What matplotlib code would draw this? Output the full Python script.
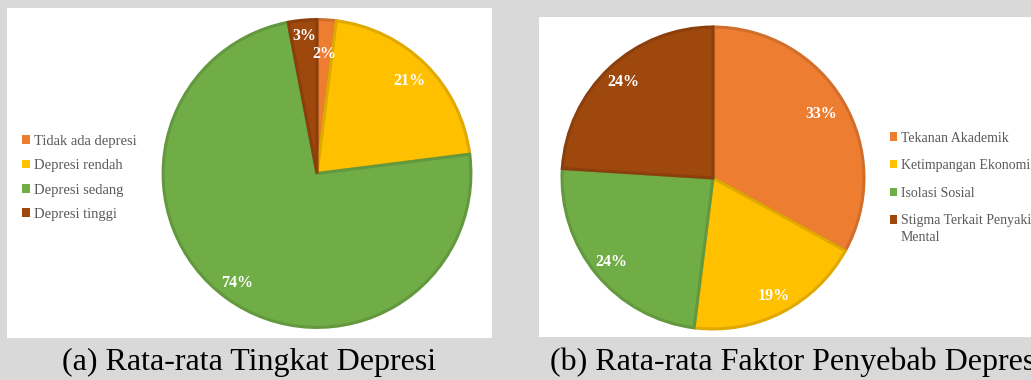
import numpy as np
import matplotlib
matplotlib.use("Agg")
import matplotlib.pyplot as plt
from matplotlib.patches import Rectangle
from matplotlib.colors import to_rgb

# data
tingkat_labels = ["Tidak ada depresi", "Depresi rendah", "Depresi sedang", "Depresi tinggi"]
tingkat_values = [2, 21, 74, 3]

faktor_labels = ["Tekanan Akademik", "Ketimpangan Ekonomi", "Isolasi Sosial",
                 "Stigma Terkait Penyakit\nMental"]
faktor_values = [33, 19, 24, 24]

colors = ["#ED7D31", "#FFC000", "#70AD47", "#9E480E"]

W, H = 1031, 380
SERIF = ["Liberation Serif", "DejaVu Serif"]
LEGEND_GREY = "#595959"


def darker(c, f=0.88):
    r, g, b = to_rgb(c)
    return (r * f, g * f, b * f)


def px_axes(fig, cx, cy, r):
    """Axes box in pixels (centre, radius) -> figure fraction."""
    return fig.add_axes([(cx - r) / W, (H - cy - r) / H, 2 * r / W, 2 * r / H])


def draw_pie(ax, values, label_r):
    wedges, _, autotexts = ax.pie(
        values, colors=colors, startangle=90, counterclock=False,
        autopct=lambda p: f"{p:.0f}%",
        wedgeprops=dict(linewidth=2.2),
        textprops=dict(color="white", fontsize=11.5, fontweight="bold", family=SERIF),
    )
    for w, c in zip(wedges, colors):
        w.set_edgecolor(darker(c))
    # put each percentage label at its own radius
    for w, t, lr in zip(wedges, autotexts, label_r):
        ang = np.deg2rad((w.theta1 + w.theta2) / 2)
        t.set_position((lr * np.cos(ang), lr * np.sin(ang)))
    ax.set_xlim(-1.02, 1.02)
    ax.set_ylim(-1.02, 1.02)
    ax.set_aspect("equal")
    ax.axis("off")
    return wedges


fig = plt.figure(figsize=(W / 100, H / 100), dpi=100)
fig.patch.set_facecolor("#D9D9D9")

# white panels (behind the axes)
fig.add_artist(Rectangle((7 / W, (H - 338) / H), (492 - 7) / W, (338 - 8) / H,
                         transform=fig.transFigure, facecolor="white", edgecolor="none",
                         zorder=-1))
fig.add_artist(Rectangle((539 / W, (H - 337) / H), (W - 539) / W, (337 - 17) / H,
                         transform=fig.transFigure, facecolor="white", edgecolor="none",
                         zorder=-1))

ax1 = px_axes(fig, 317, 173.5, 157)
w1 = draw_pie(ax1, tingkat_values, [0.78, 0.85, 0.88, 0.90])

ax2 = px_axes(fig, 713, 178, 154)
w2 = draw_pie(ax2, faktor_values, [0.83, 0.88, 0.87, 0.87])

leg1 = fig.legend(w1, tingkat_labels, loc="upper left",
                  bbox_to_anchor=(16 / W, 1 - 129 / H), frameon=False,
                  prop=dict(family=SERIF, size=10.5), handlelength=0.55, handleheight=0.55,
                  handletextpad=0.25, labelspacing=0.78, borderaxespad=0)
for t in leg1.get_texts():
    t.set_color(LEGEND_GREY)

# Excel style: marker sits on the first line of a wrapped label,
# so only the first line goes into the legend and the rest is added below
first_lines = [lab.split("\n")[0] for lab in faktor_labels]
leg2 = fig.legend(w2, first_lines, loc="upper left",
                  bbox_to_anchor=(884 / W, 1 - 126 / H), frameon=False,
                  prop=dict(family=SERIF, size=10), handlelength=0.55, handleheight=0.55,
                  handletextpad=0.25, labelspacing=1.05, borderaxespad=0)
for t in leg2.get_texts():
    t.set_color(LEGEND_GREY)
for h in list(leg1.legend_handles) + list(leg2.legend_handles):
    h.set_linewidth(0)

fig.canvas.draw()
renderer = fig.canvas.get_renderer()
for lab, t in zip(faktor_labels, leg2.get_texts()):
    rest = lab.split("\n")[1:]
    if not rest:
        continue
    bb = t.get_window_extent(renderer)
    fig.text(bb.x0 / W, ((bb.y0 + bb.y1) / 2 - 17) / H, "\n".join(rest),
             ha="left", va="center", family=SERIF, fontsize=10, color=LEGEND_GREY)

fig.text(249 / W, 1 - 362 / H, "(a) Rata-rata Tingkat Depresi", ha="center", va="center",
         family=SERIF, fontsize=23, color="black")
fig.text(550 / W, 1 - 362 / H, "(b) Rata-rata Faktor Penyebab Depresi", ha="left", va="center",
         family=SERIF, fontsize=23, color="black")

fig.savefig("out.png", dpi=100, facecolor=fig.get_facecolor())
